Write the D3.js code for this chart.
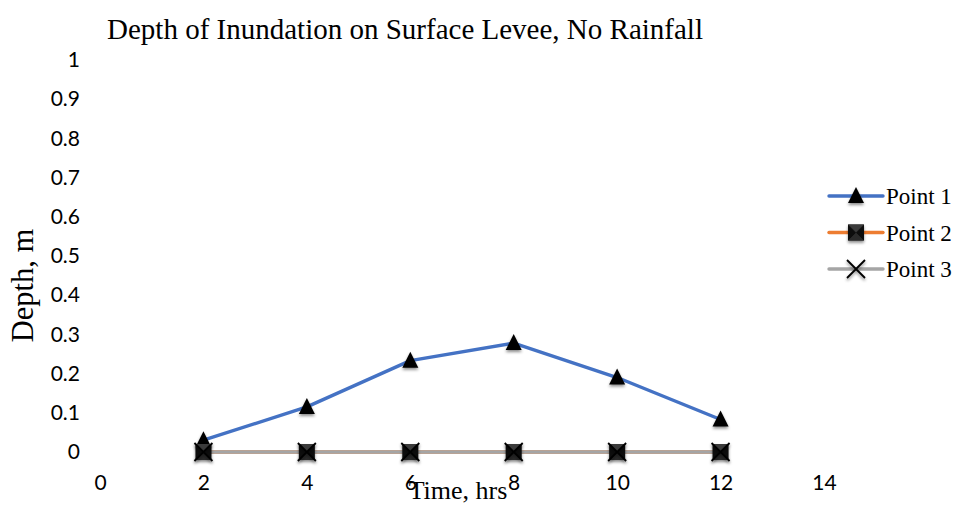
<!DOCTYPE html>
<html>
<head>
<meta charset="utf-8">
<script src="https://cdn.jsdelivr.net/npm/d3@7"></script>
<style>
  html, body { margin: 0; padding: 0; background: #fff; }
  svg { display: block; }
</style>
</head>
<body>
<svg id="chart" width="960" height="512"></svg>
<script>
// Time (hrs) at which depth was recorded
const times = [2, 4, 6, 8, 10, 12];
// Depth of inundation (m) per monitoring point
const point1 = [0.03, 0.115, 0.233, 0.278, 0.19, 0.083];
const point2 = [0, 0, 0, 0, 0, 0];
const point3 = [0, 0, 0, 0, 0, 0];
const seriesNames = ["Point 1", "Point 2", "Point 3"];
const xTicks = [0, 2, 4, 6, 8, 10, 12, 14];
const yTicks = [0, 0.1, 0.2, 0.3, 0.4, 0.5, 0.6, 0.7, 0.8, 0.9, 1];

const svg = d3.select("#chart");
const x = d3.scaleLinear().domain([0, 14]).range([100, 824]);
const y = d3.scaleLinear().domain([0, 1]).range([452, 60]);

const defs = svg.append("defs");
const sh = defs.append("filter").attr("id", "shadow")
  .attr("x", "-50%").attr("y", "-50%").attr("width", "200%").attr("height", "200%");
sh.append("feDropShadow").attr("dx", 0).attr("dy", 2).attr("stdDeviation", 1.8)
  .attr("flood-color", "#000").attr("flood-opacity", 0.45);

const sansFont = "Lato, 'Open Sans', sans-serif";
const serifFont = "'Liberation Serif', 'DejaVu Serif', serif";

// Title
svg.append("text").attr("x", 405).attr("y", 39).attr("text-anchor", "middle")
  .attr("font-family", serifFont).attr("font-size", 29).attr("fill", "#000")
  .text("Depth of Inundation on Surface Levee, No Rainfall");

// Axes (labels only, no lines)
const yAxis = svg.append("g").attr("transform", "translate(80,0)")
  .call(d3.axisLeft(y).tickValues(yTicks).tickSize(0).tickPadding(0).tickFormat(d3.format("~g")));
const xAxis = svg.append("g").attr("transform", "translate(0,452)")
  .call(d3.axisBottom(x).tickValues(xTicks).tickSize(0).tickPadding(23).tickFormat(d3.format("~g")));
[yAxis, xAxis].forEach(a => {
  a.select(".domain").remove();
  a.selectAll("text").attr("font-family", sansFont).attr("font-size", 21).attr("fill", "#000");
});

// Axis titles
svg.append("text").attr("transform", "translate(33,285.5) rotate(-90)").attr("text-anchor", "middle")
  .attr("font-family", serifFont).attr("font-size", 30.5).attr("fill", "#000").text("Depth, m");
svg.append("text").attr("x", 458).attr("y", 499).attr("text-anchor", "middle")
  .attr("font-family", serifFont).attr("font-size", 26).attr("fill", "#000").text("Time, hrs");

const series = [
  { name: seriesNames[0], values: point1, color: "#4472C4", marker: "triangle" },
  { name: seriesNames[1], values: point2, color: "#ED7D31", marker: "square" },
  { name: seriesNames[2], values: point3, color: "#A5A5A5", marker: "cross" }
];

const line = d3.line().x((d, i) => x(times[i])).y(d => y(d));

function drawMarker(g, type, cx, cy) {
  if (type === "triangle") {
    g.append("path").attr("transform", `translate(${cx},${cy})`)
      .attr("d", "M0,-9 L8,7 L-8,7 Z").attr("fill", "#000").attr("filter", "url(#shadow)");
  } else if (type === "square") {
    const s = 8;
    const m = g.append("g").attr("transform", `translate(${cx},${cy})`).attr("filter", "url(#shadow)");
    m.append("rect").attr("x", -s).attr("y", -s).attr("width", 2 * s).attr("height", 2 * s).attr("fill", "#0d0d0d");
    m.append("path").attr("d", `M${-s},${-s} L0,0 L${s},${-s} Z`).attr("fill", "#3a3a3a");
    m.append("path").attr("d", `M${-s},${s} L0,0 L${s},${s} Z`).attr("fill", "#2a2a2a");
  } else {
    const s = 9;
    g.append("path").attr("transform", `translate(${cx},${cy})`)
      .attr("d", `M${-s},${-s} L${s},${s} M${s},${-s} L${-s},${s}`)
      .attr("stroke", "#000").attr("stroke-width", 1.8).attr("fill", "none")
      .attr("filter", "url(#shadow)");
  }
}

// Lines
series.forEach(s => {
  svg.append("path").datum(s.values).attr("d", line)
    .attr("fill", "none").attr("stroke", s.color).attr("stroke-width", 3.4)
    .attr("stroke-linejoin", "round");
});
// Markers
series.forEach(s => {
  const g = svg.append("g");
  s.values.forEach((v, i) => drawMarker(g, s.marker, x(times[i]), y(v)));
});

// Legend
const lg = svg.append("g");
series.forEach((s, i) => {
  const ly = 196 + i * 36.5;
  lg.append("line").attr("x1", 829).attr("x2", 883).attr("y1", ly).attr("y2", ly)
    .attr("stroke", s.color).attr("stroke-width", 3.4).attr("stroke-linecap", "round");
  drawMarker(lg, s.marker, 856, ly);
  lg.append("text").attr("x", 886).attr("y", ly + 8).attr("font-family", serifFont)
    .attr("font-size", 23).attr("fill", "#000").text(s.name);
});
</script>
</body>
</html>
